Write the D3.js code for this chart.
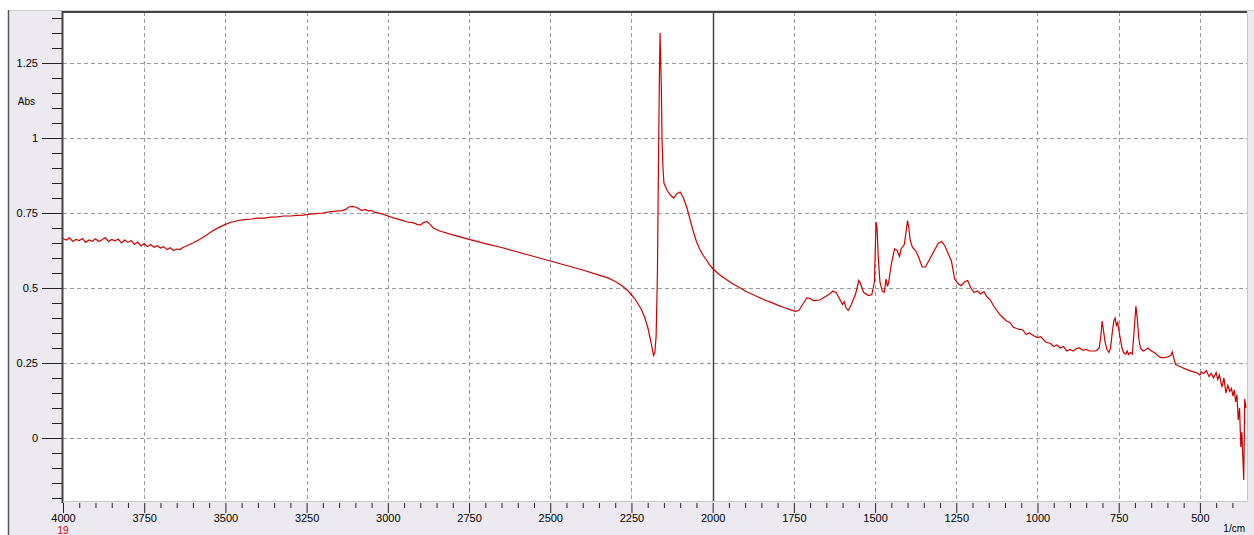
<!DOCTYPE html>
<html><head><meta charset="utf-8">
<script src="https://cdn.jsdelivr.net/npm/d3@7"></script>
<style>body{margin:0;background:#fff;}svg{display:block;}text{font-family:"Liberation Sans",Arial,sans-serif;font-size:11px;fill:#000;}</style>
</head><body><svg id="c" width="1254" height="535"></svg>
<script>
const wavenumbers = [4000,3990,3980,3970,3960,3950,3940,3930,3920,3910,3900,3890,3880,3870,3860,3850,3840,3830,3820,3810,3800,3790,3780,3770,3760,3750,3740,3730,3720,3710,3700,3690,3680,3670,3660,3650,3640,3630,3620,3600,3580,3560,3540,3520,3500,3480,3460,3440,3420,3400,3380,3360,3340,3320,3300,3280,3260,3240,3220,3200,3180,3160,3140,3130,3120,3110,3100,3090,3080,3070,3060,3050,3040,3020,3000,2980,2960,2940,2920,2910,2900,2890,2880,2870,2860,2840,2800,2750,2700,2650,2600,2550,2500,2450,2400,2350,2320,2300,2280,2260,2240,2220,2210,2200,2190,2182,2178,2174,2170,2167,2164,2162,2160,2158,2156,2153,2150,2140,2130,2120,2110,2100,2095,2090,2080,2070,2060,2050,2040,2030,2020,2010,2000,1980,1960,1940,1920,1900,1880,1860,1840,1820,1800,1780,1760,1745,1735,1720,1710,1700,1690,1670,1660,1640,1630,1620,1610,1600,1595,1590,1583,1575,1560,1550,1545,1535,1520,1510,1502,1497,1494,1490,1485,1478,1472,1466,1462,1458,1450,1440,1432,1425,1420,1410,1400,1396,1392,1385,1375,1365,1355,1345,1335,1320,1305,1295,1285,1275,1265,1255,1245,1235,1225,1215,1205,1195,1185,1175,1165,1155,1145,1135,1125,1115,1105,1095,1085,1075,1065,1055,1045,1035,1025,1010,1000,990,975,960,950,940,930,920,910,900,890,880,870,860,850,840,830,820,810,805,801,797,792,786,780,775,770,765,761,757,753,748,740,735,728,724,720,714,708,703,697,693,688,683,675,668,660,650,640,630,620,610,600,590,585,580,575,565,555,540,525,510,500,495,488,480,472,465,458,450,445,440,432,426,420,414,408,403,398,394,390,386,382,378,374,371,368,365,362,358];
const absorbance = [0.665,0.66,0.667,0.655,0.662,0.658,0.665,0.652,0.66,0.656,0.664,0.655,0.661,0.668,0.655,0.662,0.657,0.663,0.65,0.66,0.652,0.658,0.645,0.653,0.64,0.648,0.638,0.645,0.636,0.641,0.633,0.638,0.628,0.634,0.625,0.63,0.628,0.636,0.64,0.65,0.662,0.675,0.69,0.702,0.712,0.72,0.725,0.728,0.73,0.733,0.733,0.736,0.737,0.74,0.74,0.742,0.743,0.746,0.748,0.75,0.754,0.756,0.758,0.762,0.77,0.772,0.77,0.765,0.758,0.762,0.757,0.758,0.752,0.748,0.74,0.733,0.727,0.72,0.717,0.712,0.71,0.718,0.722,0.712,0.7,0.69,0.677,0.662,0.648,0.635,0.62,0.605,0.59,0.575,0.56,0.543,0.533,0.522,0.508,0.49,0.465,0.43,0.405,0.37,0.32,0.275,0.285,0.34,0.55,0.9,1.2,1.35,1.26,1.17,1.0,0.9,0.85,0.825,0.81,0.8,0.815,0.82,0.81,0.8,0.77,0.73,0.69,0.655,0.63,0.61,0.595,0.578,0.565,0.545,0.53,0.515,0.503,0.49,0.48,0.47,0.46,0.452,0.443,0.435,0.427,0.422,0.425,0.45,0.467,0.465,0.458,0.46,0.467,0.48,0.49,0.485,0.465,0.445,0.455,0.435,0.425,0.44,0.48,0.525,0.515,0.485,0.475,0.478,0.52,0.72,0.7,0.6,0.52,0.49,0.485,0.53,0.505,0.52,0.58,0.63,0.625,0.605,0.63,0.645,0.725,0.7,0.66,0.635,0.625,0.6,0.57,0.57,0.59,0.62,0.65,0.655,0.64,0.615,0.59,0.53,0.515,0.508,0.52,0.525,0.5,0.485,0.49,0.48,0.488,0.47,0.46,0.44,0.425,0.41,0.4,0.39,0.385,0.37,0.365,0.362,0.36,0.345,0.35,0.34,0.335,0.338,0.32,0.315,0.305,0.31,0.3,0.305,0.29,0.295,0.29,0.298,0.3,0.292,0.295,0.29,0.29,0.29,0.3,0.34,0.39,0.36,0.32,0.295,0.285,0.3,0.35,0.39,0.4,0.375,0.385,0.35,0.3,0.285,0.28,0.29,0.278,0.285,0.28,0.35,0.44,0.4,0.33,0.3,0.29,0.293,0.3,0.29,0.285,0.275,0.268,0.268,0.27,0.275,0.287,0.265,0.245,0.24,0.235,0.228,0.222,0.218,0.21,0.22,0.215,0.225,0.205,0.215,0.2,0.218,0.195,0.21,0.17,0.2,0.15,0.175,0.155,0.165,0.14,0.16,0.12,0.145,0.06,0.1,-0.03,0.02,-0.06,-0.14,0.13,0.1];
const xTicks = [4000,3750,3500,3250,3000,2750,2500,2250,2000,1750,1500,1250,1000,750,500];
const yTicks = [0,0.25,0.5,0.75,1,1.25];
const yTickLabels = ["0","0.25","0.5","0.75","1","1.25"];

const svg = d3.select("#c");
const L = 63, R = 1247, T = 12, B = 501;
const x = d3.scaleLinear().domain([4000, 355]).range([L, R]);
const y = d3.scaleLinear().domain([-0.21, 1.42]).range([B, T]);

svg.append("rect").attr("x",9).attr("y",10).attr("width",1245).attr("height",525).attr("fill","#ECEAF0");
svg.append("line").attr("x1",8.5).attr("x2",8.5).attr("y1",10).attr("y2",535).attr("stroke","#555").attr("stroke-width",1.5);
svg.append("line").attr("x1",9).attr("x2",1254).attr("y1",10.5).attr("y2",10.5).attr("stroke","#d0d0d0");
svg.append("rect").attr("x",L).attr("y",T).attr("width",R-L).attr("height",B-T).attr("fill","#fff");

const g = svg.append("g");
xTicks.filter(v => v !== 4000 && v !== 2000).forEach(v => {
  g.append("line").attr("x1",Math.round(x(v))+0.5).attr("x2",Math.round(x(v))+0.5).attr("y1",T).attr("y2",B)
   .attr("stroke","#999").attr("stroke-dasharray","4,3");
});
yTicks.forEach(v => {
  g.append("line").attr("x1",L).attr("x2",R).attr("y1",Math.round(y(v))+0.5).attr("y2",Math.round(y(v))+0.5)
   .attr("stroke","#999").attr("stroke-dasharray","4,3");
});
g.append("line").attr("x1",Math.round(x(2000))+0.5).attr("x2",Math.round(x(2000))+0.5).attr("y1",T).attr("y2",B)
 .attr("stroke","#444").attr("stroke-width",1.5);

const data = wavenumbers.map((w,i) => [w, absorbance[i]]);
svg.append("path").datum(data)
  .attr("d", d3.line().x(d => x(d[0])).y(d => y(d[1])))
  .attr("fill","none").attr("stroke","#CC0000").attr("stroke-width",1.2);

svg.append("line").attr("x1",L).attr("x2",R).attr("y1",T).attr("y2",T).attr("stroke","#444").attr("stroke-width",2);
svg.append("line").attr("x1",L-0.5).attr("x2",L-0.5).attr("y1",T-1).attr("y2",B+2).attr("stroke","#444").attr("stroke-width",2);
svg.append("line").attr("x1",L).attr("x2",R).attr("y1",B+0.5).attr("y2",B+0.5).attr("stroke","#c8c8c8");
svg.append("line").attr("x1",R+0.5).attr("x2",R+0.5).attr("y1",T).attr("y2",B).attr("stroke","#c8c8c8");

const yAxis = d3.axisLeft(y).tickValues(yTicks).tickSize(20).tickPadding(4)
  .tickFormat((d,i) => yTickLabels[i]);
const ya = svg.append("g").attr("transform",`translate(${L-1},0)`).call(yAxis);
ya.select(".domain").remove();
ya.selectAll(".tick line").attr("stroke","#222");
ya.selectAll("text").style("font-size","11px");
const yMinor = d3.range(-0.2, 1.4001, 0.05).filter(v => !yTicks.some(t => Math.abs(t - v) < 1e-6));
const yma = svg.append("g").attr("transform",`translate(${L-1},0)`)
  .call(d3.axisLeft(y).tickValues(yMinor).tickSize(10).tickFormat(""));
yma.select(".domain").remove();
yma.selectAll(".tick line").attr("stroke","#222");
svg.append("text").attr("x",35).attr("y",105).attr("text-anchor","end").style("font-size","10px").text("Abs");

const xa = svg.append("g").attr("transform",`translate(0,${B+2})`)
  .call(d3.axisBottom(x).tickValues(xTicks).tickSize(10).tickPadding(1).tickFormat(d3.format("d")));
xa.select(".domain").remove();
xa.selectAll(".tick line").attr("stroke","#222");
const xMinor = d3.range(400, 4000, 50).filter(v => v % 250 !== 0);
const xma = svg.append("g").attr("transform",`translate(0,${B+2})`)
  .call(d3.axisBottom(x).tickValues(xMinor).tickSize(5).tickFormat(""));
xma.select(".domain").remove();
xma.selectAll(".tick line").attr("stroke","#222");

svg.append("text").attr("x",x(4000)).attr("y",534).attr("text-anchor","middle").style("font-size","10px").style("fill","#CC0000").text("19");
svg.append("text").attr("x",1245).attr("y",532).attr("text-anchor","end").style("font-size","10px").text("1/cm");
</script></body></html>
